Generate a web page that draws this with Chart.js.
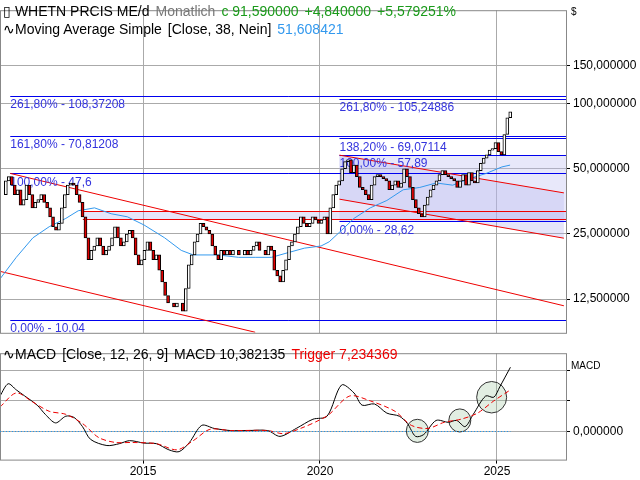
<!DOCTYPE html>
<html><head><meta charset="utf-8">
<script src="https://cdn.jsdelivr.net/npm/chart.js@4.4.1/dist/chart.umd.min.js"></script>
<style>
body{margin:0;background:#fff;width:640px;height:480px;overflow:hidden;font-family:"Liberation Sans",Arial,sans-serif}
#c1{position:absolute;left:0;top:0}
#c2{position:absolute;left:0;top:343px}
.t{position:absolute;font-size:14px;white-space:nowrap}
.t span{margin-left:6px}
</style></head><body>
<canvas id="c1" width="640" height="343"></canvas>
<canvas id="c2" width="640" height="137"></canvas>
<div class="t" style="left:3px;top:3px">&#9647; WHETN PRCIS ME/d<span style="color:#777">Monatlich</span><span style="color:#1a9a1a">c 91,590000</span><span style="color:#1a9a1a">+4,840000</span><span style="color:#1a9a1a">+5,579251%</span></div>
<div class="t" style="left:3px;top:21px">&#8767;Moving Average Simple<span>[Close, 38, Nein]</span><span style="color:#3399ee">51,608421</span></div>
<div class="t" style="left:3px;top:346px">&#8767;MACD<span>[Close, 12, 26, 9]</span><span>MACD 10,382135</span><span style="color:#e00">Trigger 7,234369</span></div>
<script>
// monthly closes Jan 2011 .. May 2025
const closes = [
 38,44,46,42,38,40,34,36,42,38,33,35,
 36,38,35,33,30,27,26,28,33,38,42,43,
 42,38,35,30,24,19,21,22,24,22,20,21,
 22,24,27,24,22,23,25,26,24,20,18,19,
 21,23,21,19,20,17,15,13,12,12,11.5,12,
 12,11,14,18,20,23,25,28,27,26,25,22,
 20,19,21,20,21,20,21,21,20,20,21,20,
 21,22,23,21,21,20,22,21,17,16,15,17,
 19,22,23,25,27,30,28,27,28,30,29,28,
 29,30,25,33,38,42,44,50,54,55,48,52,
 46,41,40,38,36,42,46,47,46,45,44,40,
 42,44,41,43,50,46,41,36,33,31,30,34,
 37,40,42,44,47,49,47,46,45,44,41,44,
 47,42,48,44,43,49,53,56,58,61,62,66,
 60,58,72,86,91.59];
const firstYear = 2011;
const maT = [2010.96,2011.42,2011.89,2012.35,2012.82,2013.17,2013.63,2014.10,2014.56,2015.03,2015.61,2016.08,2016.42,2017.12,2017.70,2018.17,2018.63,2019.10,2019.56,2020.03,2020.26,2020.61,2020.96,2021.42,2021.89,2022.35,2022.82,2023.28,2023.75,2024.21,2024.68,2025.14,2025.37];
const maV = [15.5,19.5,24,27,29.5,32,33,31,30,27.5,24,21,20,20,19.5,19.5,19.5,20.5,21.5,22,23,26,29.5,33,35.7,40,41,43,42,45,47.5,51,52];
const fibLeft = [[108.37208,"261,80% - 108,37208"],[70.81208,"161,80% - 70,81208"],[47.6,"100,00% - 47,6"],[10.04,"0,00% - 10,04"]];
const fibRight = [[105.24886,"261,80% - 105,24886"],[69.07114,"138,20% - 69,07114"],[57.89,"100,00% - 57,89"],[28.62,"0,00% - 28,62"]];
const redLevels = [31.9,29.2];
const channels = [[[2011.25,47.6],[2026.89,11.65]],[[2010.96,16.8],[2018.17,8.79]],[[2020.55,57.8],[2026.89,38.7]],[[2020.55,36.2],[2026.89,23.9]]];
const priceTicks = [12.5,25,50,100,150];
const yearTicks = [2015,2020,2025];
const macdPts = [[2010.96,5.8],[2011.19,7.8],[2011.42,6.8],[2011.66,5.8],[2012.01,4.3],[2012.24,2.8],[2012.53,1.4],[2012.82,2.5],[2013.05,2.3],[2013.29,0.8],[2013.52,-1.3],[2013.98,-2.3],[2014.33,-2.0],[2014.62,-1.5],[2015.03,-1.9],[2015.38,-2.0],[2015.73,-3.0],[2016.02,-3.3],[2016.31,-1.8],[2016.66,1.0],[2017.01,0.5],[2017.47,0.15],[2017.94,0.15],[2018.52,0.15],[2018.87,-0.8],[2019.33,0.5],[2019.80,2.0],[2020.20,2.5],[2020.61,7.6],[2020.96,6.3],[2021.19,4.3],[2021.54,4.5],[2021.89,3.0],[2022.24,2.5],[2022.47,1.3],[2022.70,-0.8],[2022.93,-0.5],[2023.28,1.8],[2023.63,1.5],[2023.86,1.8],[2024.10,0.8],[2024.33,2.8],[2024.68,5.8],[2024.91,5.6],[2025.08,7.3],[2025.38,10.5]];
const trigPts = [[2010.96,4.0],[2011.42,6.3],[2011.89,4.8],[2012.35,3.3],[2012.82,2.8],[2013.29,1.3],[2013.75,-1.0],[2014.22,-1.8],[2014.68,-1.8],[2015.38,-2.0],[2015.96,-3.0],[2016.42,-1.5],[2016.89,0.35],[2017.47,0.15],[2018.52,0.15],[2018.98,-0.35],[2019.56,0.75],[2020.03,2.0],[2020.26,2.8],[2020.84,5.8],[2021.42,5.0],[2022.12,3.3],[2022.58,1.0],[2023.05,0.5],[2023.51,1.5],[2023.98,2.0],[2024.45,3.0],[2024.91,5.0],[2025.38,6.8]];
const macdCircles = [[2022.75,0.1],[2023.95,1.8],[2024.85,5.6]];

const candles=[], cCol=[];
closes.forEach((c,i)=>{const o=i?closes[i-1]:c;const t=firstYear+i/12+1/24;
 candles.push({x:t,y:[Math.min(o,c),Math.max(o,c)]});cCol.push(c>=o?'#ffffff':'#e00000');});
const fmt=v=>v.toFixed(6).replace('.',',');
const XMIN=2010.96, XMAX=2026.95;
const RW=74;

const topPlugin={id:'top',
 beforeDatasetsDraw(ch){const {ctx,chartArea:a,scales:{x,y}}=ch;ctx.save();
  ctx.beginPath();ctx.rect(a.left,a.top,a.width,a.height);ctx.clip();
  ctx.fillStyle='rgba(170,170,240,0.3)';
  const c=channels[2],d=channels[3];
  ctx.beginPath();ctx.moveTo(x.getPixelForValue(c[0][0]),y.getPixelForValue(c[0][1]));ctx.lineTo(x.getPixelForValue(c[1][0]),y.getPixelForValue(c[1][1]));
  ctx.lineTo(x.getPixelForValue(d[1][0]),y.getPixelForValue(d[1][1]));ctx.lineTo(x.getPixelForValue(d[0][0]),y.getPixelForValue(d[0][1]));ctx.fill();
  const x0=x.getPixelForValue(2013.3);
  ctx.fillRect(x0,y.getPixelForValue(redLevels[0]),a.right-x0,y.getPixelForValue(redLevels[1])-y.getPixelForValue(redLevels[0]));
  ctx.fillStyle='rgba(190,190,240,0.35)';ctx.fillRect(x.getPixelForValue(2020.55),y.getPixelForValue(57.89),a.right-x.getPixelForValue(2020.55),y.getPixelForValue(28.62)-y.getPixelForValue(57.89));
  ctx.lineWidth=1;ctx.strokeStyle='#0000ee';
  const xl=x.getPixelForValue(2011.25), xr=x.getPixelForValue(2020.55);
  fibLeft.forEach(([v])=>{const p=Math.round(y.getPixelForValue(v))+0.5;ctx.beginPath();ctx.moveTo(xl,p);ctx.lineTo(a.right,p);ctx.stroke();});
  fibRight.forEach(([v])=>{const p=Math.round(y.getPixelForValue(v))+0.5;ctx.beginPath();ctx.moveTo(xr,p);ctx.lineTo(a.right,p);ctx.stroke();});
  ctx.strokeStyle='#ee0000';
  redLevels.forEach(v=>{const p=Math.round(y.getPixelForValue(v))+0.5;ctx.beginPath();ctx.moveTo(x0,p);ctx.lineTo(a.right,p);ctx.stroke();});
  channels.forEach(l=>{ctx.beginPath();ctx.moveTo(x.getPixelForValue(l[0][0]),y.getPixelForValue(l[0][1]));ctx.lineTo(x.getPixelForValue(l[1][0]),y.getPixelForValue(l[1][1]));ctx.stroke();});
  ctx.font='12px "Liberation Sans", Arial';ctx.fillStyle='#3333dd';ctx.textBaseline='top';
  fibLeft.forEach(([v,s])=>ctx.fillText(s,xl,y.getPixelForValue(v)+3));
  fibRight.forEach(([v,s])=>ctx.fillText(s,xr,y.getPixelForValue(v)+3));
  ctx.restore();},
 afterDraw(ch){const {ctx,chartArea:a}=ch;ctx.save();ctx.strokeStyle='#888';ctx.lineWidth=1;ctx.strokeRect(a.left+0.5,a.top+0.5,a.width,a.height);
  ctx.fillStyle='#000';ctx.font='10px "Liberation Sans", Arial';ctx.fillText('$',a.right+5,15);ctx.restore();}
};
new Chart(document.getElementById('c1'),{
 data:{datasets:[
  {type:'line',data:maT.map((t,i)=>({x:t,y:maV[i]})),borderColor:'#3399ee',borderWidth:1,pointRadius:0,order:2},
  {type:'bar',data:candles,backgroundColor:cCol,borderColor:'#000',borderWidth:1,barThickness:3,borderSkipped:false,order:1}
 ]},
 plugins:[topPlugin],
 options:{animation:false,responsive:false,maintainAspectRatio:false,
  layout:{padding:{left:0,top:1,right:0,bottom:0}},
  plugins:{legend:{display:false},tooltip:{enabled:false}},
  scales:{
   x:{type:'linear',min:XMIN,max:XMAX,offset:false,afterBuildTicks:s=>{s.ticks=yearTicks.map(v=>({value:v}));},
      ticks:{display:false},grid:{offset:false,color:'#aaa',drawTicks:false,borderDash:[1,3]},border:{display:false}},
   y:{type:'logarithmic',position:'right',min:8.74,max:270,
      afterBuildTicks:s=>{s.ticks=priceTicks.map(v=>({value:v}));},afterFit:s=>{s.width=RW;},
      ticks:{callback:v=>fmt(v),color:'#000',font:{size:12,family:'"Liberation Sans", Arial'},padding:3},
      grid:{color:'#aaa',borderDash:[1,3],tickLength:4,tickColor:'#000'},border:{display:false}}
  }}
});

const botPlugin={id:'bot',
 beforeDatasetsDraw(ch){const {ctx,scales:{x,y}}=ch;ctx.save();
  ctx.fillStyle='rgba(160,200,160,0.3)';ctx.strokeStyle='#333';ctx.lineWidth=1;
  macdCircles.forEach(([t,v],i)=>{const r=i==2?15:11;ctx.beginPath();ctx.ellipse(x.getPixelForValue(t),y.getPixelForValue(v),r,r*1.05,0,0,Math.PI*2);ctx.fill();ctx.stroke();});
  ctx.restore();},
 afterDraw(ch){const {ctx,chartArea:a,scales:{x,y}}=ch;ctx.save();ctx.strokeStyle='#888';ctx.strokeRect(a.left+0.5,a.top+0.5,a.width,a.height);
  ctx.strokeStyle='#2299ee';ctx.setLineDash([1,2]);const p=Math.round(y.getPixelForValue(0))+0.5;ctx.beginPath();ctx.moveTo(a.left,p);ctx.lineTo(x.getPixelForValue(2025.38),p);ctx.stroke();
  ctx.setLineDash([]);ctx.fillStyle='#000';ctx.font='10px "Liberation Sans", Arial';ctx.fillText('MACD',a.right+5,a.top+16);
  ctx.restore();}
};
new Chart(document.getElementById('c2'),{
 data:{datasets:[
  {type:'line',data:trigPts.map(p=>({x:p[0],y:p[1]})),borderColor:'#ee0000',borderDash:[5,3],borderWidth:1,pointRadius:0,tension:0.3},
  {type:'line',data:macdPts.map(p=>({x:p[0],y:p[1]})),borderColor:'#000',borderWidth:1,pointRadius:0,tension:0.3}
 ]},
 plugins:[botPlugin],
 options:{animation:false,responsive:false,maintainAspectRatio:false,
  layout:{padding:{top:2,bottom:0}},
  plugins:{legend:{display:false},tooltip:{enabled:false}},
  scales:{
   x:{type:'linear',min:XMIN,max:XMAX,afterBuildTicks:s=>{s.ticks=yearTicks.map(v=>({value:v}));},
      ticks:{callback:v=>String(v),color:'#000',font:{size:12,family:'"Liberation Sans", Arial'},maxRotation:0,padding:1},
      grid:{color:'#aaa',borderDash:[1,3],tickLength:4,tickColor:'#000'},border:{display:false}},
   y:{type:'linear',position:'right',min:-4.6,max:12.8,afterBuildTicks:s=>{s.ticks=[0,5,10].map(v=>({value:v}));},
      afterFit:s=>{s.width=RW;},
      ticks:{callback:v=>v===0?fmt(0):'',color:'#000',font:{size:12,family:'"Liberation Sans", Arial'},padding:3},
      grid:{color:'#aaa',borderDash:[1,3],tickLength:4,tickColor:'#000'},border:{display:false}}
  }}
});
</script></body></html>
